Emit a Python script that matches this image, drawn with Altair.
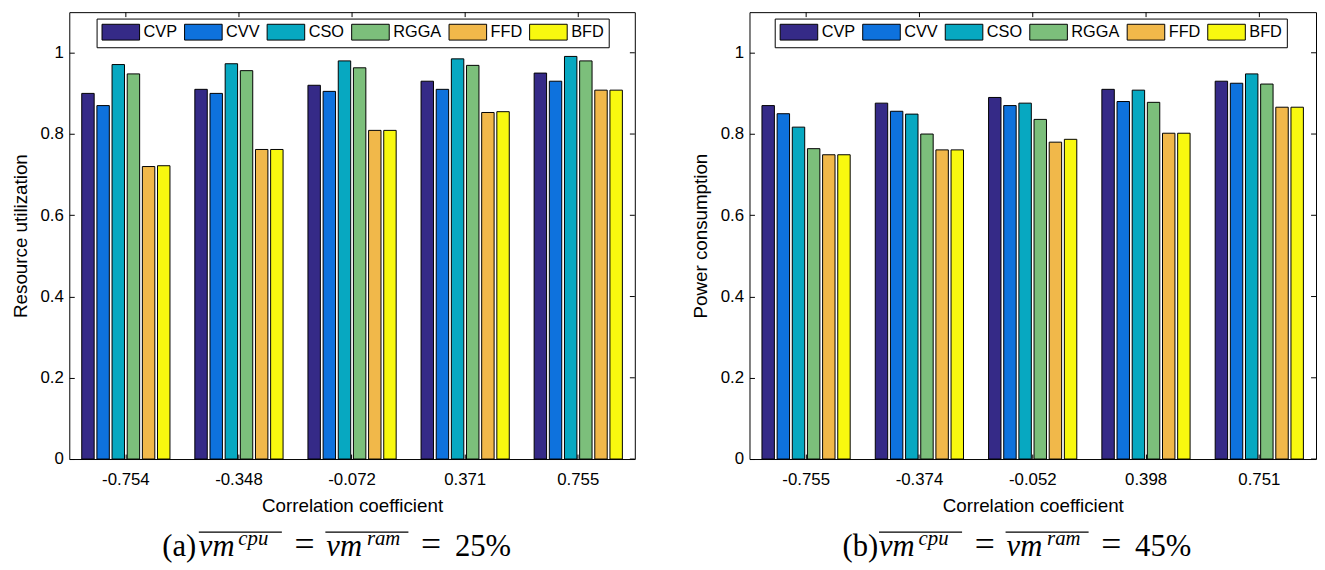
import altair as alt
import pandas as pd

algs = ["CVP", "CVV", "CSO", "RGGA", "FFD", "BFD"]
colors = ["#352a87", "#0e72dd", "#07a8c1", "#7cbf7b", "#f1b84a", "#f8f80f"]

coef_a = ["-0.754", "-0.348", "-0.072", "0.371", "0.755"]
coef_b = ["-0.755", "-0.374", "-0.052", "0.398", "0.751"]

# Resource utilization (panel a)
cvp_a = [0.900, 0.910, 0.920, 0.930, 0.950]
cvv_a = [0.870, 0.900, 0.905, 0.910, 0.930]
cso_a = [0.971, 0.973, 0.980, 0.985, 0.991]
rgga_a = [0.948, 0.956, 0.963, 0.969, 0.980]
ffd_a = [0.720, 0.762, 0.809, 0.853, 0.908]
bfd_a = [0.722, 0.762, 0.809, 0.855, 0.908]

# Power consumption (panel b)
cvp_b = [0.870, 0.876, 0.890, 0.910, 0.930]
cvv_b = [0.850, 0.856, 0.870, 0.880, 0.925]
cso_b = [0.817, 0.849, 0.876, 0.908, 0.948]
rgga_b = [0.764, 0.800, 0.836, 0.878, 0.923]
ffd_b = [0.749, 0.761, 0.780, 0.802, 0.866]
bfd_b = [0.749, 0.761, 0.787, 0.802, 0.866]

yticks = [0, 0.2, 0.4, 0.6, 0.8, 1.0]

SANS = "Liberation Sans"
SERIF = "Liberation Serif"


def caption(label, pct):
    one = pd.DataFrame({"k": [0]})
    base = alt.Chart(one)

    def txt(s, x, y, size, style="normal", align="left"):
        return base.mark_text(text=s, font=SERIF, fontSize=size, fontStyle=style,
                              align=align, baseline="alphabetic", color="black").encode(
            x=alt.value(x), y=alt.value(y))

    def over(x1, x2, y):
        return base.mark_rule(color="black", strokeWidth=1.2).encode(
            x=alt.value(x1), x2=alt.value(x2), y=alt.value(y))

    yb, ys, yo = 550, 539, 526
    return [
        txt(label, 94, yb, 31),
        txt("vm", 131, yb, 31, "italic"),
        txt("cpu", 171, ys, 21, "italic"),
        over(131, 215, yo),
        txt("=", 238, yb, 36, align="center"),
        txt("vm", 260, yb, 31, "italic"),
        txt("ram", 301, ys, 21, "italic"),
        over(259, 343, yo),
        txt("=", 366, yb, 36, align="center"),
        txt(pct, 390, yb, 31),
    ]


def panel(coefs, series, ytitle, label, pct, width, legx):
    rows = []
    for alg, vals in zip(algs, series):
        for c, v in zip(coefs, vals):
            rows.append({"coef": c, "alg": alg, "value": v})
    df = pd.DataFrame(rows)

    xenc = alt.X("coef:N", sort=coefs,
                 scale=alt.Scale(paddingInner=0.22, paddingOuter=0.11),
                 axis=alt.Axis(orient="bottom", title="Correlation coefficient", labelAngle=0,
                               offset=-5, tickSize=5, domain=False, labelPadding=13,
                               titlePadding=9, tickColor="black"))
    yenc = alt.Y("value:Q", scale=alt.Scale(domain=[0, 1.1], nice=False, zero=True),
                 axis=alt.Axis(values=yticks, format="~g", offset=-5, tickSize=5, domain=False,
                               grid=False, labelPadding=6, title=ytitle, titlePadding=10,
                               tickColor="black"))

    bars = alt.Chart(df).mark_bar(stroke="black", strokeWidth=1).encode(
        x=xenc,
        y=yenc,
        xOffset=alt.XOffset("alg:N", sort=algs,
                            scale=alt.Scale(paddingInner=0.18, paddingOuter=0)),
        color=alt.Color("alg:N", sort=algs, scale=alt.Scale(domain=algs, range=colors),
                        legend=alt.Legend(
                            orient="none", legendX=legx, legendY=6.5, direction="horizontal",
                            title=None, symbolType="M-1,-1H3.75V1H-1Z", symbolSize=256,
                            symbolStrokeColor="black", symbolStrokeWidth=1, symbolOpacity=1,
                            labelFont=SANS, labelFontSize=16.5, labelColor="black",
                            labelOffset=25.5, columnPadding=4.5, padding=5,
                            strokeColor="black", fillColor="white")),
    )

    top_ticks = alt.Chart(pd.DataFrame({"coef": coefs})).mark_rule(
        color="black", strokeWidth=1).encode(x=xenc, y=alt.value(0), y2=alt.value(5))
    right_ticks = alt.Chart(pd.DataFrame({"value": yticks})).mark_rule(
        color="black", strokeWidth=1).encode(y=yenc, x=alt.value(width - 5), x2=alt.value(width))

    return alt.layer(bars, top_ticks, right_ticks, *caption(label, pct)).properties(
        width=width, height=452)


left = panel(coef_a, [cvp_a, cvv_a, cso_a, rgga_a, ffd_a, bfd_a],
             "Resource utilization", "(a)", "25%", 572, 27.6)
right = panel(coef_b, [cvp_b, cvv_b, cso_b, rgga_b, ffd_b, bfd_b],
              "Power consumption", "(b)", "45%", 573, 25.5)

chart = alt.hconcat(left, right, spacing=55).resolve_legend(color="independent").properties(
    padding={"left": 2, "top": 0, "right": 0, "bottom": 0}, background="white"
).configure_view(stroke="black", strokeWidth=1).configure_axis(
    labelFont=SANS, labelFontSize=17, labelColor="black",
    titleFont=SANS, titleFontSize=19, titleFontWeight="normal", titleColor="black",
)

chart.save("out.html", embed_options={"renderer": "svg", "actions": False})
